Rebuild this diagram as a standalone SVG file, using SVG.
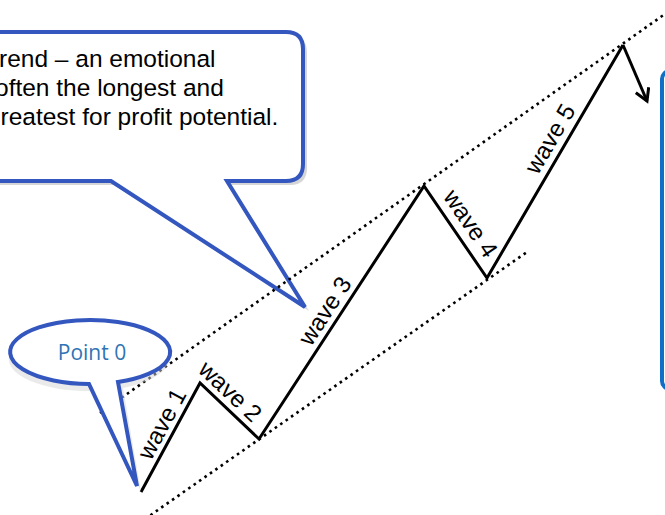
<svg xmlns="http://www.w3.org/2000/svg" width="665" height="515" viewBox="0 0 665 515">
<style>
.bubble{fill:#fff;stroke:#3457bf;stroke-width:4;stroke-linejoin:miter}
.shadow{fill:#d6d6d6;stroke:none}
.wave{fill:none;stroke:#000;stroke-width:3;stroke-linejoin:miter}
.dot{fill:none;stroke:#000;stroke-width:2.6;stroke-dasharray:2.6 4}
.lbl{font-family:"Liberation Sans",Arial,sans-serif;font-size:24px;fill:#000;text-anchor:middle}
.note{font-family:"Liberation Sans",Arial,sans-serif;font-size:24.5px;fill:#000}
</style>
<defs>
<marker id="open" markerWidth="16" markerHeight="16" refX="13" refY="8" orient="auto" markerUnits="userSpaceOnUse">
<polyline points="1,1 13,8 1,15" fill="none" stroke="#000" stroke-width="3"/>
</marker>
</defs>
<rect width="665" height="515" fill="#fff"/>

<g id="note-bubble">
<path class="shadow" d="M -10,36 H 290 Q 307,36 307,53 V 168 Q 307,185 290,185 H 231 L 309,311 L 115,185 H -10 Z"/>
<path class="bubble" d="M -10,32 H 286 Q 303,32 303,49 V 164 Q 303,181 286,181 H 227 L 305,307 L 111,181 H -10 Z"/>
<text class="note" x="-1" y="67">rend – an emotional</text>
<text class="note" x="-5" y="96">often the longest and</text>
<text class="note" x="0.5" y="125">reatest for profit potential.</text>
</g>

<g id="right-box">
<rect x="662" y="71" width="30" height="318" rx="8" fill="#fff" stroke="#0f6fc6" stroke-width="4"/>
</g>

<g id="connectors">
<line class="dot" x1="100" y1="413" x2="672" y2="9"/>
<line class="dot" x1="145" y1="519" x2="527" y2="252"/>
<polyline class="wave" points="141,492 200,383 259,439 424,186 487,278 623,45"/>
<line class="wave" x1="623" y1="45" x2="647" y2="101" marker-end="url(#open)"/>
</g>

<g id="labels">
<text class="lbl" transform="translate(162,424) rotate(-61.6)" y="8">wave 1</text>
<text class="lbl" transform="translate(230,391.5) rotate(43.5)" y="8">wave 2</text>
<text class="lbl" transform="translate(325,311) rotate(-56.9)" y="8">wave 3</text>
<text class="lbl" transform="translate(470.5,223.5) rotate(55.6)" y="8">wave 4</text>
<text class="lbl" transform="translate(550,139) rotate(-59.6)" y="8">wave 5</text>
</g>

<g id="point0-bubble">
<path class="shadow" d="M 94,391 A 80,32 0 1 1 123,388 L 141,492 Z" opacity="0.5"/>
<path class="bubble" stroke-width="5" d="M 89,384 A 80,32 0 1 1 118,382 L 137,486 Z"/>
<text x="92" y="360" font-family="'Open Sans','Noto Sans',sans-serif" font-size="21" fill="#2e74b5" text-anchor="middle">Point 0</text>
</g>
</svg>
